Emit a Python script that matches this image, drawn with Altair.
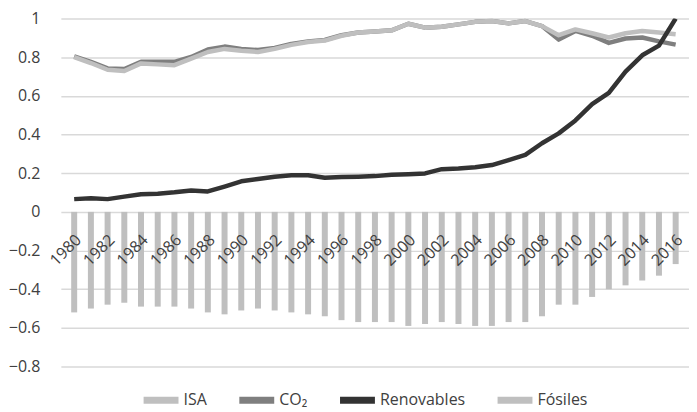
import altair as alt
import pandas as pd

years = list(range(1980, 2017))
isa = [-0.52, -0.50, -0.48, -0.47, -0.49, -0.49, -0.49, -0.50, -0.52, -0.53,
       -0.51, -0.50, -0.51, -0.52, -0.53, -0.54, -0.56, -0.57, -0.57, -0.57,
       -0.59, -0.58, -0.57, -0.58, -0.59, -0.59, -0.57, -0.57, -0.54, -0.48,
       -0.48, -0.44, -0.40, -0.38, -0.355, -0.33, -0.27]
co2 = [0.805, 0.776, 0.742, 0.739, 0.776, 0.776, 0.776, 0.801, 0.840, 0.855,
       0.843, 0.837, 0.848, 0.869, 0.882, 0.889, 0.914, 0.928, 0.933, 0.939,
       0.973, 0.953, 0.958, 0.970, 0.983, 0.987, 0.975, 0.987, 0.961, 0.891,
       0.936, 0.911, 0.874, 0.897, 0.902, 0.882, 0.865]
renovables = [0.066, 0.071, 0.066, 0.079, 0.091, 0.094, 0.101, 0.111, 0.106, 0.131,
              0.158, 0.170, 0.182, 0.189, 0.189, 0.177, 0.180, 0.182, 0.185, 0.192,
              0.195, 0.199, 0.221, 0.224, 0.231, 0.242, 0.268, 0.295, 0.355, 0.406,
              0.473, 0.557, 0.616, 0.726, 0.810, 0.860, 1.0]
fosiles = [0.800, 0.770, 0.735, 0.729, 0.768, 0.763, 0.759, 0.793, 0.827, 0.843,
           0.833, 0.827, 0.843, 0.864, 0.879, 0.886, 0.911, 0.928, 0.933, 0.939,
           0.973, 0.953, 0.958, 0.970, 0.983, 0.987, 0.975, 0.987, 0.961, 0.914,
           0.944, 0.924, 0.902, 0.924, 0.936, 0.928, 0.919]

series_names = ["ISA", "CO₂", "Renovables", "Fósiles"]
series_colors = ["#bfbfbf", "#7f7f7f", "#333333", "#bfbfbf"]
y_ticks = [-0.8, -0.6, -0.4, -0.2, 0, 0.2, 0.4, 0.6, 0.8, 1]
x_ticks = list(range(1980, 2017, 2))

FONT = "Open Sans"
TXT = "#404040"

legend = alt.Legend(
    title=None, orient="none", direction="horizontal", legendX=83, legendY=365,
    symbolType="M-1,-0.2H1V0.2H-1Z", symbolSize=1225, symbolStrokeWidth=0,
    symbolOpacity=1,
    labelFont=FONT, labelFontSize=16, labelColor=TXT, columnPadding=32,
    labelOffset=5,
)
fill = alt.Color("serie:N", scale=alt.Scale(domain=series_names, range=series_colors),
                 legend=legend)
stroke = alt.Stroke("serie:N", scale=alt.Scale(domain=series_names, range=series_colors),
                    legend=None)

x = alt.X("year:Q", title=None,
          scale=alt.Scale(domain=[1979.5, 2016.5], nice=False, zero=False),
          axis=alt.Axis(values=x_ticks, format="d", labelAngle=-45, labelAlign="right",
                        labelBaseline="middle", offset=-155, grid=False, domain=False,
                        ticks=False, tickSize=0, labelFont=FONT, labelFontSize=16,
                        labelColor=TXT, labelPadding=25, labelOffset=4, labelOverlap=False,
                        zindex=1))
y = alt.Y("value:Q", title=None,
          scale=alt.Scale(domain=[-0.8, 1], nice=False, zero=False),
          axis=alt.Axis(values=y_ticks, format="~g", domain=False, ticks=False, tickSize=0,
                        labelFont=FONT, labelFontSize=16, labelColor=TXT, labelPadding=21,
                        gridColor="#d9d9d9", gridWidth=1.5))

bars_df = pd.DataFrame({"year": years, "value": isa, "serie": "ISA"})
bars = alt.Chart(bars_df).mark_bar(size=6).encode(x=x, y=y, color=fill)

layers = [bars]
for name, vals in [("CO₂", co2), ("Fósiles", fosiles), ("Renovables", renovables)]:
    df = pd.DataFrame({"year": years, "value": vals, "serie": name})
    layers.append(alt.Chart(df).mark_line(strokeWidth=4.5, strokeJoin="round", clip=True)
                  .encode(x=x, y=y, stroke=stroke))

chart = alt.layer(*layers).properties(
    width=630, height=349,
    padding={"left": 0, "top": 2, "right": 0, "bottom": 0},
).configure_view(stroke=None)

chart.save("out.html", embed_options={"renderer": "svg", "actions": False})
